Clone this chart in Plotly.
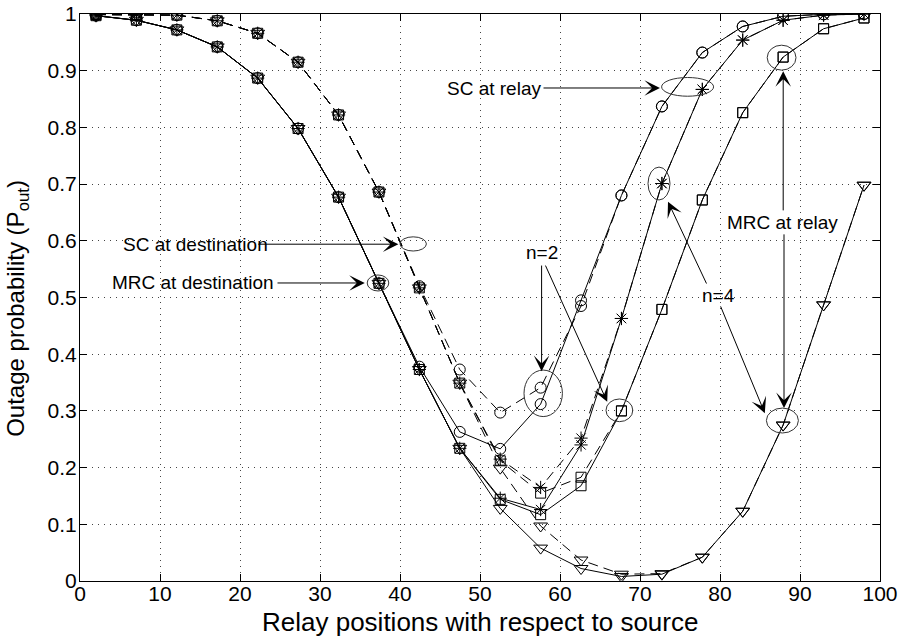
import plotly.graph_objects as go

# ---------------- data ----------------
relay_pos = [2.0, 7.05, 12.11, 17.16, 22.21, 27.26, 32.32, 37.37, 42.42, 47.47,
             52.53, 57.58, 62.63, 67.68, 72.74, 77.79, 82.84, 87.89, 92.95, 98.0]

# solid lines: MRC at destination ; dashed lines: SC at destination
circle_mrc_dest = [0.997, 0.989, 0.972, 0.942, 0.887, 0.798, 0.677, 0.525, 0.378, 0.263,
                   0.233, 0.312, 0.495, 0.680, 0.837, 0.932, 0.978, 0.996, 0.9995, 1.0]
circle_sc_dest = [0.999, 0.999, 0.998, 0.988, 0.966, 0.915, 0.822, 0.686, 0.520, 0.373,
                  0.297, 0.341, 0.485, 0.680, 0.837, 0.932, 0.978, 0.996, 0.9995, 1.0]

star_mrc_dest = [0.997, 0.989, 0.972, 0.942, 0.887, 0.798, 0.677, 0.525, 0.373, 0.234,
                 0.146, 0.126, 0.240, 0.463, 0.701, 0.867, 0.954, 0.989, 0.998, 1.0]
star_sc_dest = [0.999, 0.999, 0.998, 0.988, 0.966, 0.915, 0.822, 0.686, 0.517, 0.349,
                0.215, 0.165, 0.252, 0.463, 0.701, 0.867, 0.954, 0.989, 0.998, 1.0]

square_mrc_dest = [0.997, 0.989, 0.972, 0.942, 0.887, 0.798, 0.677, 0.525, 0.373, 0.234,
                   0.144, 0.117, 0.168, 0.300, 0.479, 0.672, 0.826, 0.924, 0.974, 0.993]
square_sc_dest = [0.999, 0.999, 0.998, 0.988, 0.966, 0.915, 0.822, 0.686, 0.517, 0.349,
                  0.212, 0.155, 0.183, 0.300, 0.479, 0.672, 0.826, 0.924, 0.974, 0.993]

tri_mrc_dest = [0.997, 0.989, 0.972, 0.942, 0.887, 0.798, 0.677, 0.525, 0.373, 0.234,
                0.128, 0.058, 0.022, 0.008, 0.012, 0.042, 0.123, 0.275, 0.487, 0.698]
tri_sc_dest = [0.999, 0.999, 0.998, 0.988, 0.966, 0.915, 0.822, 0.686, 0.517, 0.349,
               0.199, 0.097, 0.037, 0.012, 0.013, 0.042, 0.123, 0.275, 0.487, 0.698]

x_ticks = [0, 10, 20, 30, 40, 50, 60, 70, 80, 90, 100]
y_ticks = [0, 0.1, 0.2, 0.3, 0.4, 0.5, 0.6, 0.7, 0.8, 0.9, 1]

x_title = "Relay positions with respect to source"
y_title = "Outage probability (P<sub>out</sub>)"

FONT = "Liberation Sans, Arial, Helvetica, sans-serif"
DASH = "10px,6px"

series = [
    ("SC at relay, n=2 (MRC at destination)", circle_mrc_dest, "circle-open", "solid", 11),
    ("SC at relay, n=2 (SC at destination)", circle_sc_dest, "circle-open", DASH, 11),
    ("SC at relay, n=4 (MRC at destination)", star_mrc_dest, "asterisk-open", "solid", 11),
    ("SC at relay, n=4 (SC at destination)", star_sc_dest, "asterisk-open", DASH, 11),
    ("MRC at relay, n=2 (MRC at destination)", square_mrc_dest, "square-open", "solid", 10),
    ("MRC at relay, n=2 (SC at destination)", square_sc_dest, "square-open", DASH, 10),
    ("MRC at relay, n=4 (MRC at destination)", tri_mrc_dest, "triangle-down-open", "solid", 12),
    ("MRC at relay, n=4 (SC at destination)", tri_sc_dest, "triangle-down-open", DASH, 12),
]

fig = go.Figure()
for name, vals, sym, dash, size in series:
    fig.add_trace(go.Scatter(
        x=relay_pos, y=vals, name=name, mode="lines+markers",
        line=dict(color="black", width=1, dash=dash),
        marker=dict(symbol=sym, size=size, color="black", line=dict(color="black", width=1)),
        showlegend=False,
    ))

# ---------------- annotations ----------------
labels = [
    ("SC at relay", 51.7, 0.868),
    ("SC at destination", 14.4, 0.593),
    ("MRC at destination", 14.1, 0.526),
    ("n=2", 57.7, 0.580),
    ("n=4", 79.75, 0.504),
    ("MRC at relay", 87.75, 0.633),
]
for txt, lx, ly in labels:
    fig.add_annotation(x=lx, y=ly, xref="x", yref="y", text=txt, showarrow=False,
                       xanchor="center", yanchor="middle",
                       font=dict(family=FONT, size=19, color="black"))

# arrows: (tail_x, tail_y, tip_x, tip_y)
arrows = [
    (57.75, 0.8695, 72.5, 0.8695),
    (22.1, 0.594, 39.8, 0.594),
    (24.5, 0.5256, 35.6, 0.5256),
    (57.7, 0.559, 57.7, 0.370),
    (58.1, 0.559, 65.9, 0.316),
    (78.4, 0.522, 73.5, 0.669),
    (80.0, 0.487, 85.6, 0.296),
    (87.9, 0.651, 87.9, 0.899),
    (88.0, 0.614, 88.0, 0.305),
]
for tx, ty, hx, hy in arrows:
    fig.add_annotation(x=hx, y=hy, ax=tx, ay=ty, xref="x", yref="y", axref="x", ayref="y",
                       text="", showarrow=True, arrowhead=3, arrowsize=2.6,
                       arrowwidth=1, arrowcolor="black", standoff=0, startstandoff=0)

# ellipses: (x0, x1, y0, y1)
ellipses = [
    (72.7, 79.2, 0.855, 0.888),
    (40.0, 43.3, 0.582, 0.607),
    (35.9, 38.6, 0.5115, 0.5397),
    (55.5, 60.3, 0.290, 0.372),
    (65.75, 69.1, 0.281, 0.321),
    (71.0, 73.75, 0.672, 0.730),
    (85.8, 89.8, 0.261, 0.305),
    (85.9, 89.5, 0.901, 0.945),
]
for x0, x1, y0, y1 in ellipses:
    fig.add_shape(type="circle", xref="x", yref="y", x0=x0, x1=x1, y0=y0, y1=y1,
                  line=dict(color="#333333", width=1))

# axis titles
fig.add_annotation(x=0.5, y=-0.0723, xref="paper", yref="paper", text=x_title,
                   showarrow=False, xanchor="center", yanchor="middle",
                   font=dict(family=FONT, size=26, color="black"))
fig.add_annotation(x=-0.0775, y=0.48, xref="paper", yref="paper", text=y_title,
                   showarrow=False, xanchor="center", yanchor="middle", textangle=-90,
                   font=dict(family=FONT, size=24, color="black"))

axis_common = dict(
    showline=True, linecolor="black", linewidth=1, mirror="allticks",
    ticks="inside", ticklen=7, tickcolor="black",
    showgrid=True, gridcolor="#444444", gridwidth=1, griddash="1px,5px",
    zeroline=False, automargin=False,
    tickfont=dict(family=FONT, size=21, color="black"),
)

fig.update_xaxes(range=[0, 100], tickvals=x_ticks, ticktext=[str(v) for v in x_ticks],
                 ticklabelstandoff=-6, **axis_common)
fig.update_yaxes(range=[0, 1], tickvals=y_ticks, ticktext=[("%g" % v) for v in y_ticks],
                 ticklabelstandoff=-2, **axis_common)

fig.update_layout(
    width=899, height=638,
    margin=dict(l=80, r=19, t=14, b=57, autoexpand=False),
    plot_bgcolor="white", paper_bgcolor="white",
    font=dict(family=FONT, color="black"),
    showlegend=False,
)

fig.write_html("out.html", config={"displayModeBar": False},
               post_script="document.body.style.margin='0px';document.body.style.overflow='hidden';")
